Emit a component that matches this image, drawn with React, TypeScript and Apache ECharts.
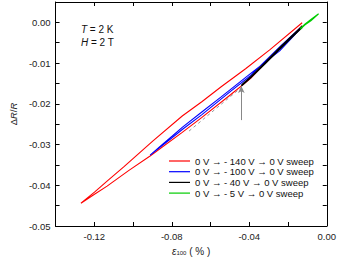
import React, { useEffect, useRef } from "react";
import * as echarts from "echarts";

// ε100 (%) vs ΔR/R
const redSweep: number[][] = [
  [-0.0127, -0.0008], [-0.0193, -0.0042], [-0.0243, -0.0065], [-0.0318, -0.0100],
  [-0.0394, -0.0138], [-0.0495, -0.0177], [-0.0646, -0.0234], [-0.0746, -0.0270],
  [-0.0912, -0.0328], [-0.1023, -0.0364], [-0.1134, -0.0402], [-0.1199, -0.0422],
  [-0.1269, -0.0444],
  [-0.1199, -0.0417], [-0.1134, -0.0390], [-0.1048, -0.0355], [-0.0897, -0.0291],
  [-0.0746, -0.0230], [-0.0645, -0.0195], [-0.0545, -0.0158], [-0.0419, -0.0114],
  [-0.0293, -0.0067], [-0.0127, -0.0001],
];
const blueSweep: number[][] = [
  [-0.0127, -0.0009], [-0.0193, -0.0038], [-0.0243, -0.0060], [-0.0318, -0.0095],
  [-0.0394, -0.0131], [-0.0495, -0.0169], [-0.0646, -0.0227], [-0.0746, -0.0263],
  [-0.0797, -0.0283], [-0.0912, -0.0326],
  [-0.0847, -0.0299], [-0.0797, -0.0279], [-0.0746, -0.0258], [-0.0645, -0.0220],
  [-0.0545, -0.0183], [-0.0394, -0.0126], [-0.0243, -0.0070], [-0.0127, -0.0011],
];
const blackSweep: number[][] = [
  [-0.0127, -0.0009], [-0.0193, -0.0039], [-0.0243, -0.0062], [-0.0318, -0.0098],
  [-0.0394, -0.0134], [-0.0439, -0.0153],
  [-0.0439, -0.0156], [-0.0394, -0.0137], [-0.0318, -0.0102], [-0.0243, -0.0066],
  [-0.0193, -0.0043], [-0.0127, -0.0013],
];
const greenSweep: number[][] = [
  [-0.0137, -0.0015], [-0.0110, -0.0003], [-0.0080, 0.0008], [-0.0042, 0.0021],
  [-0.0082, 0.0004], [-0.0112, -0.0006], [-0.0137, -0.0017],
];
const fitLine: number[][] = [[-0.0711, -0.0267], [-0.0444, -0.0161]];
const arrowX = -0.0441;
const arrowY: number[] = [-0.0240, -0.0156];

const seriesNames: string[] = [
  "0 V \u2192 - 140 V \u2192 0 V sweep",
  "0 V \u2192 - 100 V \u2192 0 V sweep",
  "0 V \u2192 - 40 V \u2192 0 V sweep",
  "0 V \u2192 - 5 V \u2192 0 V sweep",
];
const seriesColors: string[] = ["#ff0000", "#0000ff", "#000000", "#00cc00"];
const seriesData: number[][][] = [redSweep, blueSweep, blackSweep, greenSweep];

const FONT = "Liberation Sans, Arial, Helvetica, sans-serif";

const fmt = (v: number, step: number) => {
  const k = Math.round(v / step);
  if (k % 2 !== 0) return "";
  if (Math.abs(v) < 1e-9) return "0.00";
  return v.toFixed(2);
};

export default function App() {
  const ref = useRef<HTMLDivElement>(null);
  useEffect(() => {
    if (!ref.current) return;
    const chart = echarts.init(ref.current, null, { renderer: "svg" });
    const axisCommon = {
      type: "value" as const,
      axisLine: { show: true, onZero: false, lineStyle: { color: "#000", width: 1 } },
      axisTick: { show: true, inside: true, length: 4, lineStyle: { color: "#000" } },
      splitLine: { show: false },
    };
    chart.setOption({
      animation: false,
      backgroundColor: "#fff",
      textStyle: { fontFamily: FONT },
      grid: { left: 50, right: 11, top: 2, bottom: 35, containLabel: false },
      xAxis: [
        {
          ...axisCommon,
          position: "bottom",
          min: -0.14,
          max: 0,
          interval: 0.02,
          axisLabel: {
            color: "#222",
            fontSize: 9.5,
            fontFamily: FONT,
            margin: 5,
            formatter: (v: number) => fmt(v, 0.02),
          },
          name: "{e|\u03b5}{s|100}{n| ( % )}",
          nameLocation: "middle",
          nameGap: 20,
          nameTextStyle: {
            rich: {
              e: { fontSize: 10, fontStyle: "italic", fontFamily: FONT, color: "#222" },
              s: { fontSize: 6, fontFamily: FONT, color: "#222", verticalAlign: "bottom", padding: [4, 0, 0, 0] },
              n: { fontSize: 10, fontFamily: FONT, color: "#222" },
            },
          },
        },
        {
          ...axisCommon,
          position: "top",
          min: -0.14,
          max: 0,
          interval: 0.02,
          axisLabel: { show: false },
        },
      ],
      yAxis: [
        {
          ...axisCommon,
          position: "left",
          min: -0.05,
          max: 0.005,
          interval: 0.005,
          axisLabel: {
            color: "#222",
            fontSize: 9.5,
            fontFamily: FONT,
            margin: 5,
            formatter: (v: number) => fmt(v, 0.005),
          },
          name: "{n|\u0394}{i|R}{n|/}{i|R}",
          nameLocation: "middle",
          nameRotate: 90,
          nameGap: 35,
          nameTextStyle: {
            rich: {
              n: { fontSize: 9.5, fontFamily: FONT, color: "#222" },
              i: { fontSize: 9.5, fontStyle: "italic", fontFamily: FONT, color: "#222" },
            },
          },
        },
        {
          ...axisCommon,
          position: "right",
          min: -0.05,
          max: 0.005,
          interval: 0.005,
          axisLabel: { show: false },
        },
      ],
      legend: {
        data: seriesNames,
        orient: "vertical",
        left: 169,
        top: 156,
        padding: 0,
        itemWidth: 21,
        itemHeight: 12,
        itemGap: 0.7,
        icon: "path://M0,5.5H21V6.7H0Z",
        textStyle: { fontSize: 9.5, fontFamily: FONT, color: "#111" },
      },
      graphic: [
        {
          type: "text",
          left: 81,
          top: 24,
          style: {
            text: "{i|T}{n| = 2 K}",
            rich: {
              i: { fontSize: 10, fontStyle: "italic", fontFamily: FONT, fill: "#111" },
              n: { fontSize: 10, fontFamily: FONT, fill: "#111" },
            },
          },
        },
        {
          type: "text",
          left: 81,
          top: 37,
          style: {
            text: "{i|H}{n| = 2 T}",
            rich: {
              i: { fontSize: 10, fontStyle: "italic", fontFamily: FONT, fill: "#111" },
              n: { fontSize: 10, fontFamily: FONT, fill: "#111" },
            },
          },
        },
      ],
      series: [
        {
          type: "line",
          name: "fit",
          data: fitLine,
          symbol: "none",
          silent: true,
          lineStyle: { color: "#999", width: 1, type: [3, 3] },
          z: 1,
        },
        ...seriesData.map((d, i) => ({
          type: "line",
          name: seriesNames[i],
          data: d,
          symbol: "none",
          showSymbol: false,
          color: seriesColors[i],
          lineStyle: { color: seriesColors[i], width: 1.1 },
          z: 2 + i,
        })),
        {
          type: "line",
          name: "arrow",
          data: [],
          symbol: "none",
          silent: true,
          markLine: {
            silent: true,
            symbol: ["none", "arrow"],
            symbolSize: [5, 7],
            label: { show: false },
            lineStyle: { color: "#888", width: 1, type: "solid" },
            data: [[{ coord: [arrowX, arrowY[0]] }, { coord: [arrowX, arrowY[1]] }]],
          },
        },
      ],
    });
    return () => chart.dispose();
  }, []);
  return (
    <div
      ref={ref}
      style={{ position: "fixed", left: 0, top: 0, width: 339, height: 261 }}
    />
  );
}
